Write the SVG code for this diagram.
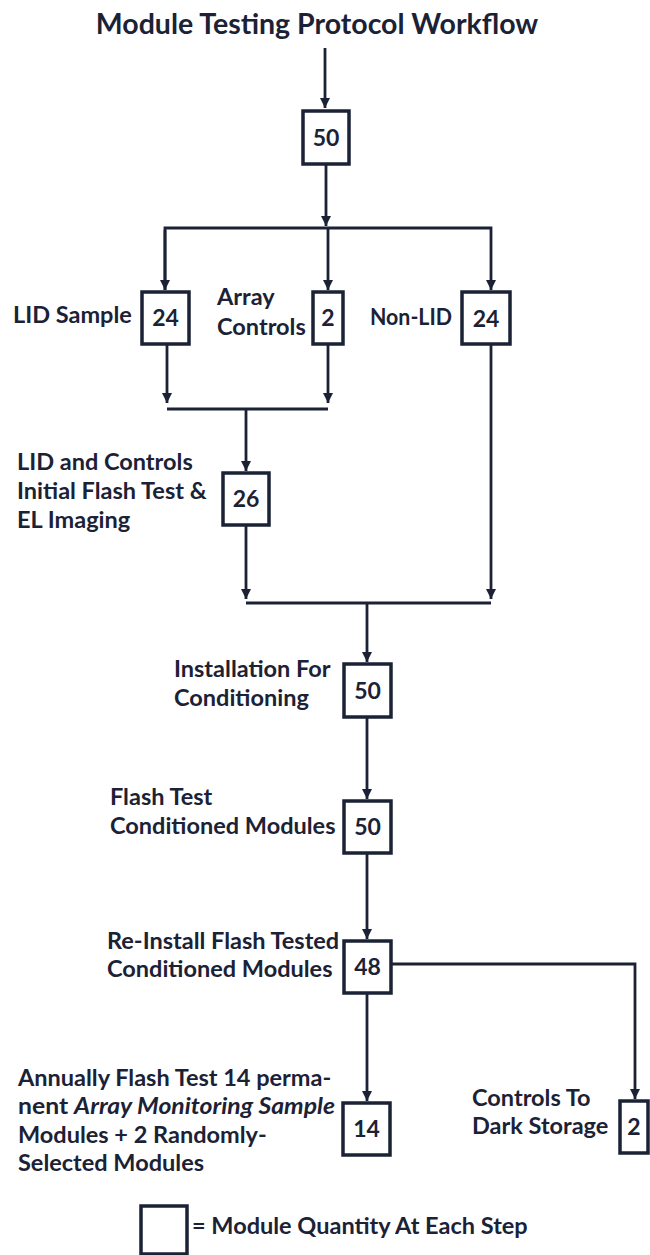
<svg xmlns="http://www.w3.org/2000/svg" width="650" height="1255" viewBox="0 0 650 1255">
<defs>
<style>
text{font-family:Lato,"Open Sans","Liberation Sans",sans-serif;font-weight:bold;fill:#1b2236;}
.lbl{font-size:23.5px;}
.num{font-size:23px;text-anchor:middle;}
.title{font-size:28.5px;text-anchor:middle;}
.box{fill:#ffffff;stroke:#1b2236;stroke-width:3.5;}
.ln{fill:none;stroke:#1b2236;stroke-width:2.8;}
</style>
<marker id="ah" viewBox="0 0 10 12" refX="10" refY="6" markerWidth="10" markerHeight="12" markerUnits="userSpaceOnUse" orient="auto">
<path d="M0,1 L10,6 L0,11 Z" fill="#1b2236"/>
</marker>
</defs>
<rect width="650" height="1255" fill="#ffffff"/>
<text class="title" x="317" y="34">Module Testing Protocol Workflow</text>

<g id="connectors">
<path class="ln" d="M325,48 V108" marker-end="url(#ah)"/>
<path class="ln" d="M326,164 V226" marker-end="url(#ah)"/>
<path class="ln" d="M165,290 V228 H491 V290" marker-end="url(#ah)"/>
<path class="ln" d="M165,230 V290" marker-end="url(#ah)"/>
<path class="ln" d="M328,228 V290" marker-end="url(#ah)"/>
<path class="ln" d="M167,344 V403" marker-end="url(#ah)"/>
<path class="ln" d="M328,344 V403" marker-end="url(#ah)"/>
<path class="ln" d="M167,409 H328"/>
<path class="ln" d="M246,409 V471" marker-end="url(#ah)"/>
<path class="ln" d="M491,344 V599" marker-end="url(#ah)"/>
<path class="ln" d="M246,525 V599" marker-end="url(#ah)"/>
<path class="ln" d="M246,603 H491"/>
<path class="ln" d="M367,603 V662" marker-end="url(#ah)"/>
<path class="ln" d="M367,717 V799" marker-end="url(#ah)"/>
<path class="ln" d="M367,853 V939" marker-end="url(#ah)"/>
<path class="ln" d="M391,964 H635 V1099" marker-end="url(#ah)"/>
<path class="ln" d="M367,993 V1101" marker-end="url(#ah)"/>
</g>

<g id="n-start">
<rect class="box" x="303" y="111" width="46" height="53"/>
<text class="num" x="326" y="146">50</text>
</g>

<g id="n-lid">
<rect class="box" x="142" y="292" width="47" height="52"/>
<text class="num" x="165.5" y="326">24</text>
<text class="lbl" x="13" y="323">LID Sample</text>
</g>

<g id="n-controls">
<rect class="box" x="313" y="292" width="30" height="52"/>
<text class="num" x="328" y="326">2</text>
<text class="lbl" x="217" y="305">Array</text>
<text class="lbl" x="217" y="335">Controls</text>
</g>

<g id="n-nonlid">
<rect class="box" x="462" y="292" width="48" height="52"/>
<text class="num" x="486" y="327">24</text>
<text class="lbl" x="370" y="325" textLength="82" lengthAdjust="spacingAndGlyphs">Non-LID</text>
</g>

<g id="n-initial">
<rect class="box" x="223" y="473" width="46" height="52"/>
<text class="num" x="246" y="507">26</text>
<text class="lbl" x="17" y="470">LID and Controls</text>
<text class="lbl" x="17" y="499">Initial Flash Test &amp;</text>
<text class="lbl" x="17" y="528">EL Imaging</text>
</g>

<g id="n-install">
<rect class="box" x="344" y="664" width="47" height="53"/>
<text class="num" x="367.5" y="699">50</text>
<text class="lbl" x="174" y="677">Installation For</text>
<text class="lbl" x="174" y="706">Conditioning</text>
</g>

<g id="n-flash">
<rect class="box" x="344" y="801" width="47" height="52"/>
<text class="num" x="367.5" y="835">50</text>
<text class="lbl" x="110" y="805">Flash Test</text>
<text class="lbl" x="110" y="834">Conditioned Modules</text>
</g>

<g id="n-reinstall">
<rect class="box" x="344" y="941" width="47" height="52"/>
<text class="num" x="367.5" y="975">48</text>
<text class="lbl" x="107" y="949">Re-Install Flash Tested</text>
<text class="lbl" x="107" y="977">Conditioned Modules</text>
</g>

<g id="n-annual">
<rect class="box" x="343" y="1103" width="47" height="52"/>
<text class="num" x="366.5" y="1137">14</text>
<text class="lbl" x="18" y="1086">Annually Flash Test 14 perma-</text>
<text class="lbl" x="18" y="1114" textLength="317" lengthAdjust="spacingAndGlyphs">nent <tspan font-style="italic">Array Monitoring Sample</tspan></text>
<text class="lbl" x="18" y="1143">Modules + 2 Randomly-</text>
<text class="lbl" x="18" y="1171">Selected Modules</text>
</g>

<g id="n-dark">
<rect class="box" x="620" y="1101" width="28" height="52"/>
<text class="num" x="634" y="1135">2</text>
<text class="lbl" x="472" y="1106">Controls To</text>
<text class="lbl" x="472" y="1134">Dark Storage</text>
</g>

<g id="legend">
<rect class="box" x="141" y="1206" width="46" height="48"/>
<text class="lbl" x="192" y="1234">= Module Quantity At Each Step</text>
</g>
</svg>
